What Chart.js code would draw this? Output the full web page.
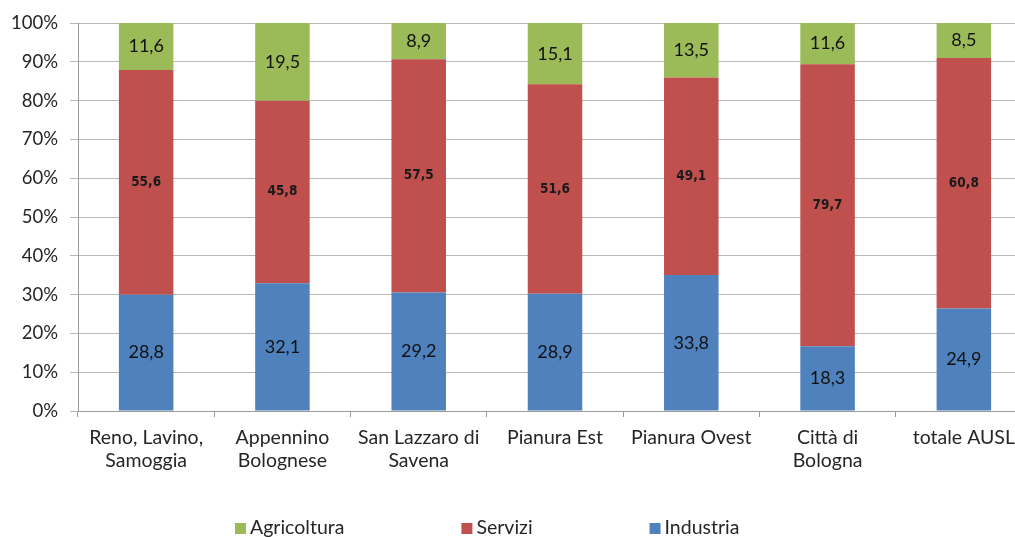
<!DOCTYPE html>
<html><head><meta charset="utf-8">
<script src="https://cdn.jsdelivr.net/npm/chart.js@4.4.0/dist/chart.umd.min.js"></script>
<style>html,body{margin:0;padding:0;overflow:hidden;background:#fff;width:1015px;height:537px}canvas{display:block}</style>
</head><body>
<canvas id="c" width="1040" height="537"></canvas>
<script>
const categories = [["Reno, Lavino,","Samoggia"],["Appennino","Bolognese"],["San Lazzaro di","Savena"],["Pianura Est"],["Pianura Ovest"],["Città di","Bologna"],["totale AUSL"]];
const industria   = [28.8, 32.1, 29.2, 28.9, 33.8, 18.3, 24.9];
const servizi     = [55.6, 45.8, 57.5, 51.6, 49.1, 79.7, 60.8];
const agricoltura = [11.6, 19.5,  8.9, 15.1, 13.5, 11.6,  8.5];
const seriesNames = ["Industria","Servizi","Agricoltura"];
const seriesColors = ["#4F81BD","#C0504D","#9BBB59"];

const totals = categories.map((_, i) => industria[i] + servizi[i] + agricoltura[i]);
const pct = arr => arr.map((v, i) => v / totals[i] * 100);
const rawSeries = [industria, servizi, agricoltura];
const labelFonts = ["18px Lato", "bold 13.5px 'DejaVu Sans Condensed', 'DejaVu Sans'", "18px Lato"];

const datasets = rawSeries.map((arr, k) => ({
  label: seriesNames[k],
  data: pct(arr),
  rawValues: arr,
  labelFont: labelFonts[k],
  backgroundColor: seriesColors[k],
  borderWidth: 0,
  barPercentage: 1,
  categoryPercentage: 0.4
}));

const valueLabels = {
  id: 'valueLabels',
  afterDatasetsDraw(chart) {
    const ctx = chart.ctx;
    chart.data.datasets.forEach((ds, di) => {
      const meta = chart.getDatasetMeta(di);
      meta.data.forEach((el, i) => {
        const v = ds.rawValues[i];
        ctx.save();
        ctx.font = ds.labelFont;
        ctx.fillStyle = di === 1 ? '#1a1a1a' : '#111';
        ctx.textAlign = 'center';
        ctx.textBaseline = 'middle';
        ctx.fillText(v.toFixed(1).replace('.', ','), el.x, (el.y + el.base) / 2);
        ctx.restore();
      });
    });
  }
};

const bottomLegend = {
  id: 'bottomLegend',
  afterDraw(chart) {
    const ctx = chart.ctx;
    ctx.save();
    ctx.font = '19.5px Lato';
    ctx.textBaseline = 'middle';
    ctx.textAlign = 'left';
    let x = 235;
    const y = 528;
    const order = [2, 1, 0];
    order.forEach(k => {
      const ds = chart.data.datasets[k];
      ctx.fillStyle = ds.backgroundColor;
      ctx.fillRect(x, y - 5, 11, 11);
      ctx.fillStyle = '#262626';
      ctx.fillText(ds.label, x + 15, y);
      x += 15 + ctx.measureText(ds.label).width + 117;
    });
    ctx.restore();
  }
};

new Chart(document.getElementById('c'), {
  type: 'bar',
  data: { labels: categories, datasets },
  options: {
    responsive: false,
    animation: false,
    devicePixelRatio: 1,
    layout: { padding: { top: 21, right: 8, bottom: 0, left: 0 } },
    plugins: { legend: { display: false }, tooltip: { enabled: false } },
    scales: {
      x: {
        stacked: true,
        grid: { display: true, offset: true, drawOnChartArea: false, drawTicks: true, tickLength: 6, color: '#9a9a9a' },
        border: { display: true, color: '#9a9a9a' },
        ticks: { font: { family: 'Lato', size: 19.5, lineHeight: 1.2 }, color: '#262626', padding: 9, maxRotation: 0, autoSkip: false },
        afterFit(s) { s.height = 126; }
      },
      y: {
        stacked: true,
        min: 0, max: 100,
        grid: { color: '#b8b8b8', tickLength: 8, drawTicks: true },
        border: { display: true, color: '#9a9a9a' },
        ticks: { stepSize: 10, font: { family: 'Lato', size: 18.5 }, color: '#262626', padding: 12, callback: v => v + '%' },
        afterFit(s) { s.width = 78; }
      }
    }
  },
  plugins: [valueLabels, bottomLegend]
});
</script>
</body></html>
